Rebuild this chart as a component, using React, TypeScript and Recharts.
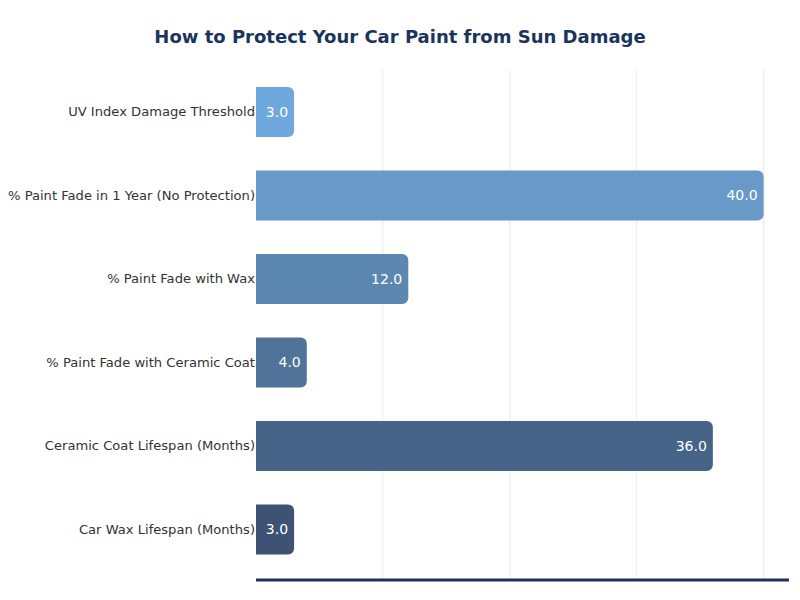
import React from "react";
import { BarChart, Bar, XAxis, YAxis, CartesianGrid, Cell, LabelList } from "recharts";

const categories = [
  "UV Index Damage Threshold",
  "% Paint Fade in 1 Year (No Protection)",
  "% Paint Fade with Wax",
  "% Paint Fade with Ceramic Coat",
  "Ceramic Coat Lifespan (Months)",
  "Car Wax Lifespan (Months)",
];
const values = [3, 40, 12, 4, 36, 3];
const barColors = ["#6fa8dc", "#6899c8", "#5b87b0", "#4f7399", "#466488", "#3d5274"];
const xTicks = [10, 20, 30, 40];

const data = categories.map((name, i) => ({ name, value: values[i] }));

const font = "'DejaVu Sans', sans-serif";

export default function App() {
  return (
    <div style={{ position: "absolute", left: 0, top: 0, width: 800, height: 600, background: "#fff", fontFamily: font }}>
      <div
        style={{
          position: "absolute",
          top: 25,
          left: 0,
          width: 800,
          textAlign: "center",
          fontSize: 18,
          fontWeight: "bold",
          color: "#1a355d",
          lineHeight: "24px",
        }}
      >
        How to Protect Your Car Paint from Sun Damage
      </div>
      <BarChart
        width={800}
        height={600}
        data={data}
        layout="vertical"
        margin={{ top: 70, right: 11, bottom: 10, left: 0 }}
        barSize={50}
      >
        <CartesianGrid
          horizontal={false}
          vertical={true}
          stroke="#ebebeb"
          strokeWidth={1}
          verticalCoordinatesGenerator={(props: any) => {
            const scale = props.xAxis && props.xAxis.scale;
            if (typeof scale === "function") return xTicks.map((t) => scale(t));
            if (scale && typeof scale.map === "function") return xTicks.map((t) => scale.map(t));
            return [];
          }}
        />
        <XAxis
          type="number"
          domain={[0, 42]}
          ticks={xTicks}
          tick={false}
          tickLine={false}
          height={10}
          axisLine={{ stroke: "#1a3358", strokeWidth: 3 }}
        />
        <YAxis
          type="category"
          dataKey="name"
          width={256}
          axisLine={false}
          tickLine={false}
          tickSize={0}
          tickMargin={1}
          padding={{ top: 0, bottom: 9 }}
          tick={{ fill: "#333333", fontSize: 13.1, fontFamily: font }}
          interval={0}
        />
        <Bar dataKey="value" isAnimationActive={false} radius={[0, 6, 6, 0]}>
          {data.map((d, i) => (
            <Cell key={d.name} fill={barColors[i]} />
          ))}
          <LabelList
            dataKey="value"
            position="insideRight"
            offset={6}
            formatter={(v: any) => Number(v).toFixed(1)}
            style={{ fill: "#ffffff", fontSize: 14, fontFamily: font }}
          />
        </Bar>
      </BarChart>
    </div>
  );
}
